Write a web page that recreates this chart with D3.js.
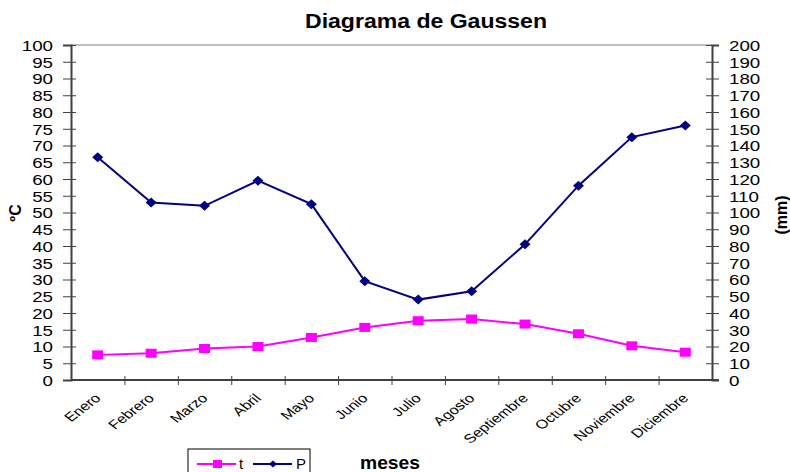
<!DOCTYPE html>
<html lang="es">
    <head>
        <meta charset="utf-8">
        <title>Diagrama de Gaussen</title>
        <script type="text/javascript" src="https://cdn.jsdelivr.net/npm/d3@7"></script>
        <style type="text/css">
            body { margin: 0; background: #fff; }
            text { font-family: "Liberation Sans", Arial, sans-serif; fill: #000; }
        </style>
    </head>
    <body>
        <script type="text/javascript">
            var w = 790;
            var h = 472;

            // data
            var meses = ["Enero", "Febrero", "Marzo", "Abril", "Mayo", "Junio",
                         "Julio", "Agosto", "Septiembre", "Octubre", "Noviembre", "Diciembre"];
            var temp = [7.5, 8.0, 9.4, 10.0, 12.7, 15.7, 17.7, 18.2, 16.7, 13.8, 10.2, 8.3];   // t (ºC)
            var prec = [133, 106, 104, 119, 105, 59, 48, 53, 81, 116, 145, 152];             // P (mm)
            var ticksT = d3.range(0, 101, 5);
            var ticksP = d3.range(0, 201, 10);

            // plot area edges (window.top is reserved, so no "top" here)
            var pL = 71, pR = 712, pT = 45, pB = 380;
            var magenta = "#ff00ff", navy = "#000080", axisCol = "#404040";

            var svg = d3.select("body")
                        .append("svg")
                        .attr("width", w)
                        .attr("height", h);

            var x = d3.scaleBand().domain(meses).range([pL, pR]);
            var xEdge = d3.scaleLinear().domain([0, 12]).range([pL, pR]);
            var yT = d3.scaleLinear().domain([0, 100]).range([pB, pT]);
            var yP = d3.scaleLinear().domain([0, 200]).range([pB, pT]);
            var cx = function(d, i) { return x(meses[i]) + x.bandwidth() / 2; };

            // title
            svg.append("text")
               .attr("x", 426).attr("y", 28)
               .attr("text-anchor", "middle")
               .attr("font-size", "20px").attr("font-weight", "bold")
               .attr("textLength", 242).attr("lengthAdjust", "spacingAndGlyphs")
               .text("Diagrama de Gaussen");

            // top border of plot area
            svg.append("line")
               .attr("x1", pL).attr("x2", pR).attr("y1", pT).attr("y2", pT)
               .attr("stroke", "#808080").attr("stroke-width", 1);

            // left axis (ºC)
            var gL = svg.append("g")
               .attr("transform", "translate(" + pL + ",0)")
               .call(d3.axisLeft(yT).tickValues(ticksT).tickSize(8).tickPadding(0));
            gL.selectAll(".tick line").attr("x1", 5).attr("stroke", axisCol);
            gL.selectAll(".tick text")
              .attr("x", 0).attr("dy", "0.36em")
              .attr("transform", "translate(-18,0) scale(1.25,1)")
              .attr("font-size", "15px");

            // right axis (mm)
            var gR = svg.append("g")
               .attr("transform", "translate(" + pR + ",0)")
               .call(d3.axisRight(yP).tickValues(ticksP).tickSize(7).tickPadding(0));
            gR.selectAll(".tick line").attr("x1", -6).attr("stroke", axisCol);
            gR.selectAll(".tick text")
              .attr("x", 0).attr("dy", "0.36em")
              .attr("transform", "translate(17,0) scale(1.25,1)")
              .attr("font-size", "15px");

            // x axis: ticks at category edges, labels at centres
            var gX = svg.append("g")
               .attr("transform", "translate(0," + pB + ")")
               .call(d3.axisBottom(xEdge).tickValues(d3.range(1, 12)).tickSize(5).tickFormat(""));
            gX.selectAll(".tick line").attr("y1", -4).attr("stroke", axisCol);
            gX.select(".domain").remove();

            var gXl = svg.append("g")
               .attr("transform", "translate(0," + pB + ")")
               .call(d3.axisBottom(x).tickSize(0));
            gXl.select(".domain").remove();
            gXl.selectAll(".tick text")
               .attr("x", 0).attr("y", 0).attr("dy", 0)
               .attr("text-anchor", "end")
               .attr("transform", "translate(4,19) scale(1.3,1) rotate(-45)")
               .attr("font-size", "12.5px");

            [gL, gR].forEach(function(g) {
                g.selectAll(".domain").attr("stroke", axisCol).attr("stroke-width", 2);
            });
            svg.append("line")
               .attr("x1", pL).attr("x2", pR + 7).attr("y1", pB).attr("y2", pB)
               .attr("stroke", axisCol).attr("stroke-width", 2);

            // axis titles
            svg.append("text")
               .attr("transform", "translate(21,213) rotate(-90)")
               .attr("text-anchor", "middle")
               .attr("font-size", "16px").attr("font-weight", "bold")
               .text("ºC");
            svg.append("text")
               .attr("transform", "translate(787,215) rotate(-90)")
               .attr("text-anchor", "middle")
               .attr("font-size", "16px").attr("font-weight", "bold")
               .text("(mm)");

            // series
            var lineT = d3.line().x(cx).y(function(d) { return yT(d); });
            var lineP = d3.line().x(cx).y(function(d) { return yP(d); });

            svg.append("path").datum(prec)
               .attr("d", lineP).attr("fill", "none")
               .attr("stroke", navy).attr("stroke-width", 2);
            svg.append("path").datum(temp)
               .attr("d", lineT).attr("fill", "none")
               .attr("stroke", magenta).attr("stroke-width", 2);

            svg.selectAll("path.dia")
               .data(prec).enter()
               .append("path").attr("class", "dia")
               .attr("d", "M0,-5L5.5,0L0,5L-5.5,0Z")
               .attr("transform", function(d, i) { return "translate(" + cx(d, i) + "," + yP(d) + ")"; })
               .attr("fill", navy);

            svg.selectAll("rect.sq")
               .data(temp).enter()
               .append("rect").attr("class", "sq")
               .attr("x", function(d, i) { return cx(d, i) - 5.5; })
               .attr("y", function(d) { return yT(d) - 4.5; })
               .attr("width", 11).attr("height", 9)
               .attr("fill", magenta);

            // legend
            var lg = svg.append("g");
            lg.append("rect")
              .attr("x", 188).attr("y", 449).attr("width", 122).attr("height", 30)
              .attr("fill", "#fff").attr("stroke", "#000").attr("stroke-width", 1);
            lg.append("line").attr("x1", 197).attr("x2", 236).attr("y1", 464).attr("y2", 464)
              .attr("stroke", magenta).attr("stroke-width", 2);
            lg.append("rect").attr("x", 213).attr("y", 460).attr("width", 9).attr("height", 8)
              .attr("fill", magenta);
            lg.append("text").attr("x", 239).attr("y", 469).attr("font-size", "15px").text("t");
            lg.append("line").attr("x1", 253).attr("x2", 292).attr("y1", 464).attr("y2", 464)
              .attr("stroke", navy).attr("stroke-width", 2);
            lg.append("path").attr("d", "M0,-3.5L4,0L0,3.5L-4,0Z")
              .attr("transform", "translate(273,464)").attr("fill", navy);
            lg.append("text").attr("x", 296).attr("y", 469).attr("font-size", "15px").text("P");

            svg.append("text")
               .attr("x", 360).attr("y", 469)
               .attr("font-size", "19px").attr("font-weight", "bold")
               .attr("textLength", 60).attr("lengthAdjust", "spacingAndGlyphs")
               .text("meses");
        </script>
    </body>
</html>
